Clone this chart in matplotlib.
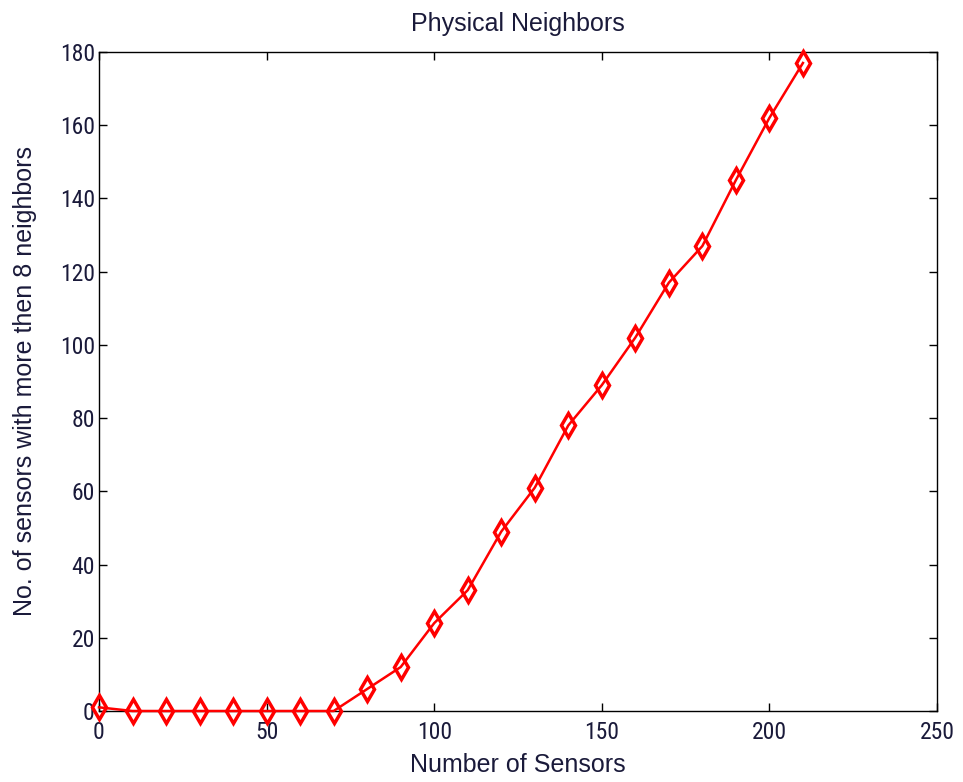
import matplotlib
matplotlib.use("Agg")
import matplotlib.pyplot as plt

num_sensors = [0, 10, 20, 30, 40, 50, 60, 70, 80, 90, 100, 110, 120, 130, 140, 150, 160, 170, 180, 190, 200, 210]
neighbors_gt8 = [1, 0, 0, 0, 0, 0, 0, 0, 6, 12, 24, 33, 49, 61, 78, 89, 102, 117, 127, 145, 162, 177]
xticks = [0, 50, 100, 150, 200, 250]
yticks = [0, 20, 40, 60, 80, 100, 120, 140, 160, 180]

plt.rcParams['font.family'] = ['Roboto Condensed', 'Liberation Sans', 'DejaVu Sans']
label_font = ['Liberation Sans', 'DejaVu Sans']
txt_color = '#1a1a3a'
fig = plt.figure(figsize=(9.63, 7.82), dpi=100)
ax = fig.add_axes([0.1028, 0.0908, 0.8702, 0.8427])
ax.plot(num_sensors, neighbors_gt8, color='red', linewidth=1.8, marker='d',
        markersize=12, markeredgewidth=2.5, markerfacecolor='none', markeredgecolor='red',
        clip_on=False, zorder=3)
ax.set_xlim(0, 250)
ax.set_ylim(0, 180)
ax.set_xticks(xticks)
ax.set_yticks(yticks)
ax.tick_params(direction='in', top=True, right=True, length=6, labelsize=17,
               labelcolor=txt_color, width=1)
ax.tick_params(axis='x', pad=7)
ax.tick_params(axis='y', pad=3)
for s in ax.spines.values():
    s.set_linewidth(1)
ax.set_title('Physical Neighbors', fontsize=18, color=txt_color, pad=15, family=label_font)
ax.set_xlabel('Number of Sensors', fontsize=18, color=txt_color, labelpad=7, family=label_font)
ax.set_ylabel('No. of sensors with more then 8 neighbors', fontsize=18, color=txt_color,
              labelpad=16, family=label_font)
fig.savefig('out.png', dpi=100)
